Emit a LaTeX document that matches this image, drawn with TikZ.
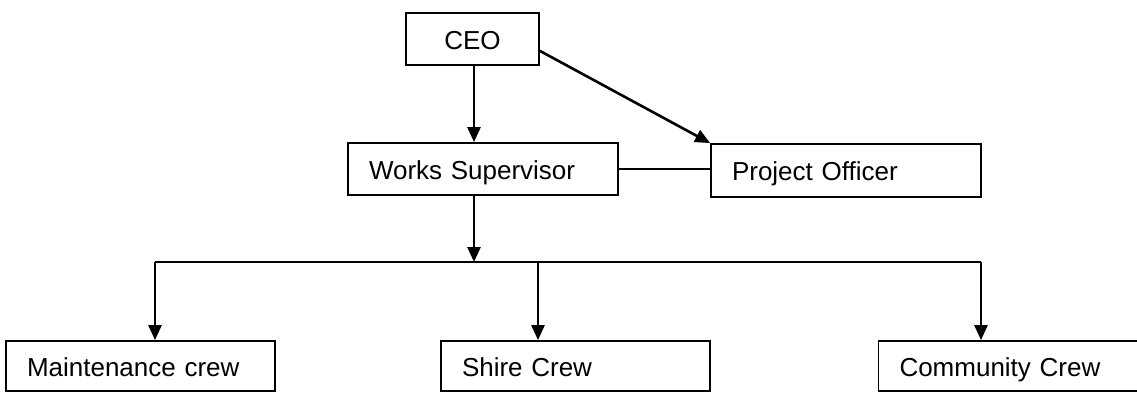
\documentclass[tikz,border=0pt]{standalone}
\usepackage{fontspec}
\setmainfont{Liberation Sans}
\usetikzlibrary{arrows.meta}
\usetikzlibrary{positioning}

\begin{document}
\begin{tikzpicture}[x=0.5pt,y=-0.5pt,>={Triangle[length=7.5pt,width=6.5pt]},
        role/.style={draw,line width=0.9pt,font=\fontsize{13pt}{15pt}\selectfont,
                inner xsep=10.5pt,inner ysep=0pt,text width=#1,align=left,minimum height=25pt,
                text height=10pt,text depth=0pt},
        link/.style={line width=1.3pt}]
        \useasboundingbox (0,0) rectangle (1137,392);
        \node[draw,line width=0.9pt,font=\fontsize{13pt}{15pt}\selectfont,text height=10pt,text depth=0pt,
                minimum width=66.5pt,minimum height=26pt,inner sep=0pt] (ceo) at (472.5,39) {CEO};
        \node[role=114pt,minimum height=26pt] (ws) at (483,169) {Works Supervisor};
        \node[role=114pt,minimum height=26.5pt] (po) at (846,170.5) {Project Officer};
        \node[role=113.5pt] (maint) at (140.5,366) {Maintenance crew};
        \node[role=113.5pt] (shire) at (575.5,366) {Shire Crew};
        \node[role=113.5pt] (comm) at (1013,366) {Community Crew};
        \coordinate (bar) at (474,262);
        \coordinate (jm) at (155,262);
        \coordinate (js) at (538,262);
        \coordinate (jc) at (981,262);
        \draw[link,->] (ceo.south -| bar) -- (ws.north -| bar);
        \draw[link,->] (ceo.-10) -- (po.north west);
        \draw[line width=0.8pt] (ws.east) -- (ws.east -| po.west);
        \draw[link,->] (ws.south -| bar) -- (bar);
        \draw[link] (jm) -- (jc);
        \draw[link,->] (jm) -- (jm |- maint.north);
        \draw[link,->] (js) -- (js |- shire.north);
        \draw[link,->] (jc) -- (jc |- comm.north);
\end{tikzpicture}
\end{document}
